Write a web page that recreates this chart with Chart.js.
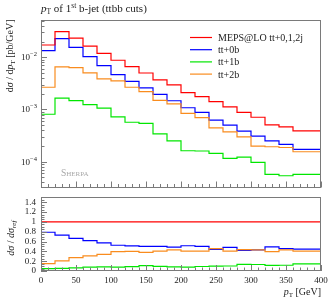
<!DOCTYPE html>
<html>
<head>
<meta charset="utf-8">
<script src="https://cdn.jsdelivr.net/npm/chart.js@4.4.1/dist/chart.umd.min.js"></script>
<style>
  html, body { margin: 0; padding: 0; background: #fff; }
  body { width: 332px; height: 300px; position: relative; overflow: hidden; }
  canvas { position: absolute; left: 0; }
  #main { top: 0; }
  #ratio { top: 187px; }
</style>
</head>
<body>
<canvas id="main" width="332" height="188"></canvas>
<canvas id="ratio" width="332" height="113"></canvas>
<script>
// bin edges in GeV, the 0-20 bin is empty
const binEdges = [0, 20, 40, 60, 80, 100, 120, 140, 160, 180, 200, 220, 240, 260, 280, 300, 320, 340, 360, 380, 400];
const seriesLabels = ['MEPS@LO tt+0,1,2j', 'tt+0b', 'tt+1b', 'tt+2b'];
const seriesColors = ['#ff0000', '#0000ff', '#00e600', '#f98c1e'];

// dsigma/dpT [pb/GeV], one value per bin
const xsecTotal = [0, 0.0172, 0.031, 0.0234, 0.0164, 0.0119, 0.00877, 0.0066, 0.0050, 0.00368, 0.00295, 0.0021, 0.00177, 0.00142, 0.00112, 0.00088, 0.00071, 0.000508, 0.000465, 0.000389];
const xsec0b = [0, 0.01337, 0.0227, 0.0155, 0.01026, 0.0069, 0.00465, 0.00347, 0.00259, 0.00195, 0.00147, 0.00108, 0.00088, 0.000624, 0.0005, 0.000385, 0.000309, 0.000251, 0.000214, 0.000172];
const xsec1b = [0, 0.00081, 0.00165, 0.00148, 0.00124, 0.00106, 0.000722, 0.00057, 0.00054, 0.000342, 0.000251, 0.000162, 0.00016, 0.000144, 0.000116, 0.000122, 0.000097, 0.000057, 0.0000537, 0.000057];
const xsec2b = [0, 0.00267, 0.00653, 0.00633, 0.00501, 0.00385, 0.00354, 0.00267, 0.0022, 0.00150, 0.00128, 0.00084, 0.0007, 0.000445, 0.000373, 0.000299, 0.000199, 0.000193, 0.000187, 0.000155];

// ratio to MEPS@LO
const ratioTotal = [1, 1, 1, 1, 1, 1, 1, 1, 1, 1, 1, 1, 1, 1, 1, 1, 1, 1, 1, 1];
const ratio0b = [1, 0.79, 0.73, 0.665, 0.62, 0.575, 0.525, 0.512, 0.5, 0.5, 0.488, 0.515, 0.5, 0.44, 0.48, 0.42, 0.43, 0.49, 0.458, 0.447];
const ratio1b = [1, 0.048, 0.054, 0.062, 0.077, 0.085, 0.078, 0.088, 0.11, 0.094, 0.084, 0.08, 0.092, 0.1, 0.102, 0.137, 0.132, 0.113, 0.117, 0.145];
const ratio2b = [1, 0.15, 0.208, 0.274, 0.31, 0.34, 0.393, 0.4, 0.378, 0.405, 0.43, 0.405, 0.405, 0.455, 0.405, 0.435, 0.43, 0.393, 0.43, 0.405];

const SERIF = '"Liberation Serif", "DejaVu Serif", serif';
const frameColor = '#7a7a7a';
const textColor = '#222';

function histPoints(vals, emptyVal) {
  // stepped line: a point on every lower edge plus one closing point
  let pts = vals.map((v, i) => ({ x: binEdges[i], y: v === 0 ? emptyVal : v }));
  pts.push({ x: binEdges[binEdges.length - 1], y: pts[pts.length - 1].y });
  return pts;
}

function makeSets(series, emptyVal) {
  const drawOrder = [0, 2, 3, 1]; // red on top, then orange
  return series.map((vals, i) => ({
    label: seriesLabels[i],
    data: histPoints(vals, emptyVal),
    borderColor: seriesColors[i],
    borderWidth: 1.2,
    stepped: 'after',
    pointRadius: 0,
    fill: false,
    order: drawOrder[i]
  }));
}

// text made of pieces: {t, size, dy, italic}
function drawRich(ctx, x, y, parts, align) {
  const fontOf = p => (p.italic ? 'italic ' : '') + p.size + 'px ' + SERIF;
  let total = 0;
  parts.forEach(p => { ctx.font = fontOf(p); total += ctx.measureText(p.t).width; });
  let cx = align === 'right' ? x - total : align === 'center' ? x - total / 2 : x;
  ctx.textAlign = 'left';
  ctx.textBaseline = 'alphabetic';
  parts.forEach(p => {
    ctx.font = fontOf(p);
    ctx.fillText(p.t, cx, y + (p.dy || 0));
    cx += ctx.measureText(p.t).width;
  });
}

function drawFrame(chart) {
  const { ctx, chartArea: a } = chart;
  ctx.save();
  ctx.strokeStyle = frameColor;
  ctx.lineWidth = 1;
  ctx.strokeRect(Math.round(a.left) + 0.5, Math.round(a.top) + 0.5, Math.round(a.right - a.left) - 1, Math.round(a.bottom - a.top) - 1);
  // x ticks, inward from the bottom edge
  const xs = chart.scales.x;
  ctx.beginPath();
  for (let v = 0; v <= 400; v += 10) {
    const px = Math.round(xs.getPixelForValue(v)) + 0.5;
    const len = v % 50 === 0 ? 6 : 3.5;
    ctx.moveTo(px, a.bottom);
    ctx.lineTo(px, a.bottom - len);
  }
  ctx.stroke();
  ctx.restore();
}

const mainDecor = {
  id: 'mainDecor',
  afterDraw(chart) {
    const { ctx, chartArea: a } = chart;
    const ys = chart.scales.y;
    drawFrame(chart);
    ctx.save();
    ctx.strokeStyle = frameColor;
    ctx.lineWidth = 1;
    ctx.beginPath();
    for (let d = -5; d <= -1; d++) {
      for (let k = 1; k <= 9; k++) {
        const v = k * Math.pow(10, d);
        if (v < ys.min || v > ys.max) continue;
        const py = Math.round(ys.getPixelForValue(v)) + 0.5;
        ctx.moveTo(a.left, py);
        ctx.lineTo(a.left + (k === 1 ? 6 : 3.5), py);
      }
    }
    ctx.stroke();

    ctx.fillStyle = textColor;
    [-2, -3, -4].forEach(d => {
      const py = ys.getPixelForValue(Math.pow(10, d));
      drawRich(ctx, 37, py + 3, [
        { t: '10', size: 9 },
        { t: '\u2212' + (-d), size: 6.5, dy: -4 }
      ], 'right');
    });

    // title
    drawRich(ctx, 41, 12, [
      { t: 'p', size: 11, italic: true },
      { t: 'T', size: 7.5, dy: 2 },
      { t: ' of 1', size: 11 },
      { t: 'st', size: 7.5, dy: -4 },
      { t: ' b-jet (ttbb cuts)', size: 11 }
    ]);

    // y title
    ctx.save();
    ctx.translate(13, a.top);
    ctx.rotate(-Math.PI / 2);
    drawRich(ctx, 0, 0, [
      { t: 'd', size: 10 },
      { t: '\u03c3', size: 10, italic: true },
      { t: ' / d', size: 10 },
      { t: 'p', size: 10, italic: true },
      { t: 'T', size: 7, dy: 2 },
      { t: ' [pb/GeV]', size: 10 }
    ], 'right');
    ctx.restore();

    // legend
    chart.data.datasets.forEach((ds, i) => {
      const ly = 37.5 + i * 12.2;
      ctx.strokeStyle = ds.borderColor;
      ctx.lineWidth = 1.2;
      ctx.beginPath();
      ctx.moveTo(190, ly);
      ctx.lineTo(212, ly);
      ctx.stroke();
      ctx.fillStyle = textColor;
      drawRich(ctx, 218, ly + 3.5, [{ t: ds.label, size: 10 }]);
    });

    // generator tag
    ctx.fillStyle = '#a8a8a8';
    drawRich(ctx, 61, 176, [
      { t: 'S', size: 9.5 },
      { t: 'HERPA', size: 7 }
    ]);
    ctx.restore();
  }
};

const ratioDecor = {
  id: 'ratioDecor',
  afterDraw(chart) {
    const { ctx, chartArea: a } = chart;
    const ys = chart.scales.y;
    drawFrame(chart);
    ctx.save();
    ctx.strokeStyle = frameColor;
    ctx.lineWidth = 1;
    ctx.beginPath();
    for (let i = 0; i <= 30; i++) {
      const v = i * 0.05;
      const py = Math.round(ys.getPixelForValue(v)) + 0.5;
      ctx.moveTo(a.left, py);
      ctx.lineTo(a.left + (i % 4 === 0 ? 6 : 3.5), py);
    }
    ctx.stroke();

    ctx.fillStyle = textColor;
    ctx.save();
    ctx.translate(14, (a.top + a.bottom) / 2 + 4);
    ctx.rotate(-Math.PI / 2);
    drawRich(ctx, 0, 0, [
      { t: 'd\u03c3', size: 10, italic: true },
      { t: ' / ', size: 10 },
      { t: 'd\u03c3', size: 10, italic: true },
      { t: 'ref', size: 7, dy: 2, italic: true }
    ], 'center');
    ctx.restore();

    drawRich(ctx, a.right, 108, [
      { t: 'p', size: 10, italic: true },
      { t: 'T', size: 7, dy: 2 },
      { t: ' [GeV]', size: 10 }
    ], 'right');
    ctx.restore();
  }
};

const noChrome = { grid: { display: false, drawTicks: false }, border: { display: false } };

new Chart(document.getElementById('main'), {
  type: 'line',
  data: { datasets: makeSets([xsecTotal, xsec0b, xsec1b, xsec2b], 1e-9) },
  options: {
    responsive: false,
    animation: false,
    layout: { padding: { top: 19.5, right: 11, bottom: 0.5, left: 0 } },
    plugins: { legend: { display: false }, tooltip: { enabled: false } },
    scales: {
      x: { type: 'linear', min: 0, max: 400, display: false },
      y: {
        type: 'logarithmic', min: 3.2e-5, max: 0.053,
        afterFit: s => { s.width = 41; },
        ticks: { display: false },
        ...noChrome
      }
    }
  },
  plugins: [mainDecor]
});

new Chart(document.getElementById('ratio'), {
  type: 'line',
  data: { datasets: makeSets([ratioTotal, ratio0b, ratio1b, ratio2b], 0) },
  options: {
    responsive: false,
    animation: false,
    layout: { padding: { top: 0.5, right: 11, bottom: 0, left: 0 } },
    plugins: { legend: { display: false }, tooltip: { enabled: false } },
    scales: {
      x: {
        type: 'linear', min: 0, max: 400,
        afterFit: s => { s.height = 29; },
        ticks: { stepSize: 50, padding: 4, autoSkip: false, maxRotation: 0, color: textColor, font: { family: SERIF, size: 9 } },
        ...noChrome
      },
      y: {
        type: 'linear', min: 0, max: 1.5,
        afterFit: s => { s.width = 41; },
        ticks: {
          stepSize: 0.2, includeBounds: false, padding: 5, autoSkip: false, color: textColor, font: { family: SERIF, size: 9 },
          callback: v => v > 1.45 ? '' : String(Math.round(v * 10) / 10)
        },
        ...noChrome
      }
    }
  },
  plugins: [ratioDecor]
});
</script>
</body>
</html>
